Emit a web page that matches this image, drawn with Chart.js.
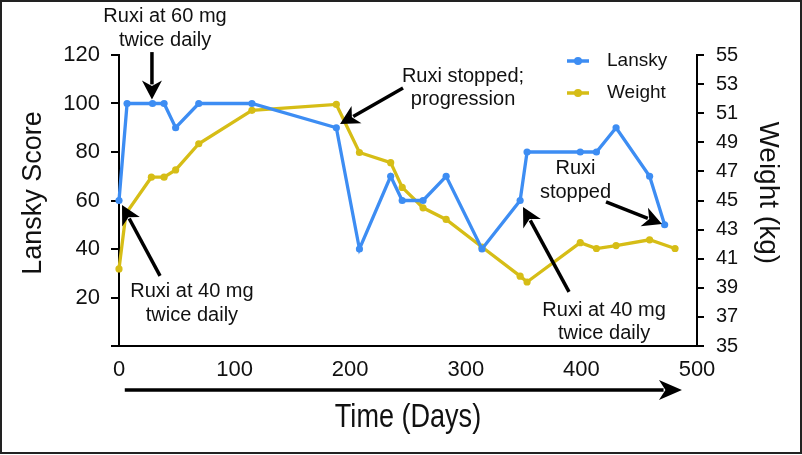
<!DOCTYPE html>
<html>
<head>
<meta charset="utf-8">
<script src="https://cdn.jsdelivr.net/npm/chart.js@4.4.1/dist/chart.umd.min.js"></script>
<style>
  html, body { margin: 0; padding: 0; background: #fff; }
  #wrap { width: 802px; height: 455px; position: relative; }
</style>
</head>
<body>
<div id="wrap"><canvas id="chart"></canvas></div>
<script>
// Dados
const lanskyDays = [0, 7, 29, 39, 49, 69, 115, 188, 208, 235, 245, 263, 283, 314, 347, 353, 399, 413, 430, 459, 472];
const lanskyScores = [60, 100, 100, 100, 90, 100, 100, 90, 40, 70, 60, 60, 70, 40, 60, 80, 80, 80, 90, 70, 50];

const weightDays = [0, 6, 28, 39, 49, 69, 115, 188, 208, 235, 245, 263, 283, 314, 347, 353, 399, 413, 430, 459, 481];
const weightKg = [40.3, 44.1, 46.6, 46.6, 47.1, 48.9, 51.2, 51.6, 48.3, 47.6, 45.9, 44.5, 43.7, 41.8, 39.8, 39.4, 42.1, 41.7, 41.9, 42.3, 41.7];

const seriesNames = ['Lansky', 'Weight'];
const dayTicks = [0, 100, 200, 300, 400, 500];

const BLUE = 'rgb(61, 141, 243)';
const YELLOW = 'rgb(214, 189, 22)';
const FONT = "'Liberation Sans', Arial, Helvetica, sans-serif";

// Notas com setas (coordenadas em dias / escala Lansky)
const notes = [
    { lines: ['Ruxi at 60 mg', 'twice daily'], at: [39.8, 135.8], from: [28.5, 121.2], to: [28.5, 101.6] },
    { lines: ['Ruxi at 40 mg', 'twice daily'], at: [63.1, 22.3], from: [35.5, 28.9], to: [2.6, 58.1] },
    { lines: ['Ruxi stopped;', 'progression'], at: [297.6, 111.3], from: [245.7, 106.4], to: [191.2, 91.5] },
    { lines: ['Ruxi', 'stopped'], at: [394.9, 73.0], from: [421.3, 59.4], to: [469.7, 50.3] },
    { lines: ['Ruxi at 40 mg', 'twice daily'], at: [419.6, 14.8], from: [389.3, 22.3], to: [349.5, 57.3] }
];

function toPoints(xs, ys) {
    return xs.map((x, i) => ({ x: x, y: ys[i] }));
}

function drawArrow(ctx, x1, y1, x2, y2, lw, head, half) {
    const ang = Math.atan2(y2 - y1, x2 - x1);
    const cos = Math.cos(ang), sin = Math.sin(ang);
    const bx = x2 - cos * head * 0.8, by = y2 - sin * head * 0.8;
    ctx.save();
    ctx.strokeStyle = '#000';
    ctx.fillStyle = '#000';
    ctx.lineWidth = lw;
    ctx.beginPath();
    ctx.moveTo(x1, y1);
    ctx.lineTo(bx, by);
    ctx.stroke();
    ctx.beginPath();
    ctx.moveTo(x2, y2);
    ctx.lineTo(x2 - cos * head - sin * half, y2 - sin * head + cos * half);
    ctx.lineTo(x2 - cos * head * 0.72, y2 - sin * head * 0.72);
    ctx.lineTo(x2 - cos * head + sin * half, y2 - sin * head - cos * half);
    ctx.closePath();
    ctx.fill();
    ctx.restore();
}

const extrasPlugin = {
    id: 'extras',
    afterDraw(chart) {
        const ctx = chart.ctx;
        const sx = chart.scales.x, sy = chart.scales.y;
        const px = v => sx.getPixelForValue(v);
        const py = v => sy.getPixelForValue(v);

        // notas
        ctx.save();
        ctx.font = '20px ' + FONT;
        ctx.fillStyle = '#111';
        ctx.textAlign = 'center';
        ctx.textBaseline = 'middle';
        notes.forEach(n => {
            n.lines.forEach((t, i) => ctx.fillText(t, px(n.at[0]), py(n.at[1]) + i * 23.5));
            drawArrow(ctx, px(n.from[0]), py(n.from[1]), px(n.to[0]), py(n.to[1]), 3.5, 19, 10);
        });
        ctx.restore();

        // legenda
        ctx.save();
        const colors = [BLUE, YELLOW];
        const lx = chart.chartArea.right - 130;
        seriesNames.forEach((name, i) => {
            const y = chart.chartArea.top + 6 + i * 32;
            ctx.strokeStyle = colors[i];
            ctx.fillStyle = colors[i];
            ctx.lineWidth = 3.5;
            ctx.beginPath();
            ctx.moveTo(lx, y);
            ctx.lineTo(lx + 22, y);
            ctx.stroke();
            ctx.beginPath();
            ctx.arc(lx + 11, y, 4, 0, Math.PI * 2);
            ctx.fill();
            ctx.fillStyle = '#111';
            ctx.font = '19px ' + FONT;
            ctx.textAlign = 'left';
            ctx.textBaseline = 'middle';
            ctx.fillText(name, lx + 40, y);
        });
        ctx.restore();

        // seta do eixo do tempo e título (fonte estreita)
        const ay = sx.top + 44;
        drawArrow(ctx, px(5), ay, px(487), ay, 3.3, 23, 10);
        ctx.save();
        ctx.fillStyle = '#111';
        ctx.font = '33px ' + FONT;
        ctx.textAlign = 'center';
        ctx.textBaseline = 'alphabetic';
        ctx.translate((sx.left + sx.right) / 2, sx.top + 81);
        ctx.scale(0.82, 1);
        ctx.fillText('Time (Days)', 0, 0);
        ctx.restore();

        // moldura
        ctx.save();
        ctx.strokeStyle = '#222';
        ctx.lineWidth = 2;
        ctx.strokeRect(1, 1, chart.width - 2, chart.height - 3);
        ctx.restore();
    }
};

const axisGrid = { display: true, drawOnChartArea: false, drawTicks: true, tickLength: 8, color: '#000', lineWidth: 2 };

new Chart(document.getElementById('chart'), {
    type: 'line',
    data: {
        datasets: [
            {
                label: seriesNames[0],
                data: toPoints(lanskyDays, lanskyScores),
                yAxisID: 'y',
                borderColor: BLUE,
                backgroundColor: BLUE,
                borderWidth: 3.3,
                pointRadius: 3.6,
                pointBorderWidth: 0,
                tension: 0,
                clip: false
            },
            {
                label: seriesNames[1],
                data: toPoints(weightDays, weightKg),
                yAxisID: 'y1',
                borderColor: YELLOW,
                backgroundColor: YELLOW,
                borderWidth: 3.3,
                pointRadius: 3.6,
                pointBorderWidth: 0,
                tension: 0,
                clip: false
            }
        ]
    },
    options: {
        responsive: true,
        maintainAspectRatio: false,
        animation: false,
        layout: { padding: { top: 55, left: 0, right: 0, bottom: 0 } },
        plugins: {
            legend: { display: false },
            tooltip: { enabled: false }
        },
        scales: {
            x: {
                type: 'linear',
                min: dayTicks[0],
                max: dayTicks[dayTicks.length - 1],
                afterBuildTicks: scale => { scale.ticks = dayTicks.map(v => ({ value: v })); },
                ticks: { color: '#111', font: { family: FONT, size: 22 }, padding: 3, maxRotation: 0 },
                grid: { display: false },
                border: { display: true, color: '#000', width: 2 },
                afterFit: scale => { scale.height = 109; }
            },
            y: {
                position: 'left',
                min: 0,
                max: 120,
                ticks: {
                    stepSize: 20,
                    color: '#111',
                    font: { family: FONT, size: 22 },
                    padding: 11,
                    callback: v => (v === 0 ? '' : v)
                },
                grid: axisGrid,
                border: { display: true, color: '#000', width: 2 },
                title: { display: true, text: '  Lansky Score', color: '#111', font: { family: FONT, size: 27 }, padding: { top: 17, bottom: 0 } },
                afterFit: scale => { scale.width = 119; }
            },
            y1: {
                position: 'right',
                min: 35,
                max: 55,
                ticks: { stepSize: 2, color: '#111', font: { family: FONT, size: 20 }, padding: 12 },
                grid: Object.assign({}, axisGrid, { tickLength: 7 }),
                border: { display: true, color: '#000', width: 2 },
                title: { display: true, text: 'Weight (kg)  ', color: '#111', font: { family: FONT, size: 28 }, padding: { top: 17, bottom: 0 } },
                afterFit: scale => { scale.width = 105; }
            }
        }
    },
    plugins: [extrasPlugin]
});
</script>
</body>
</html>
